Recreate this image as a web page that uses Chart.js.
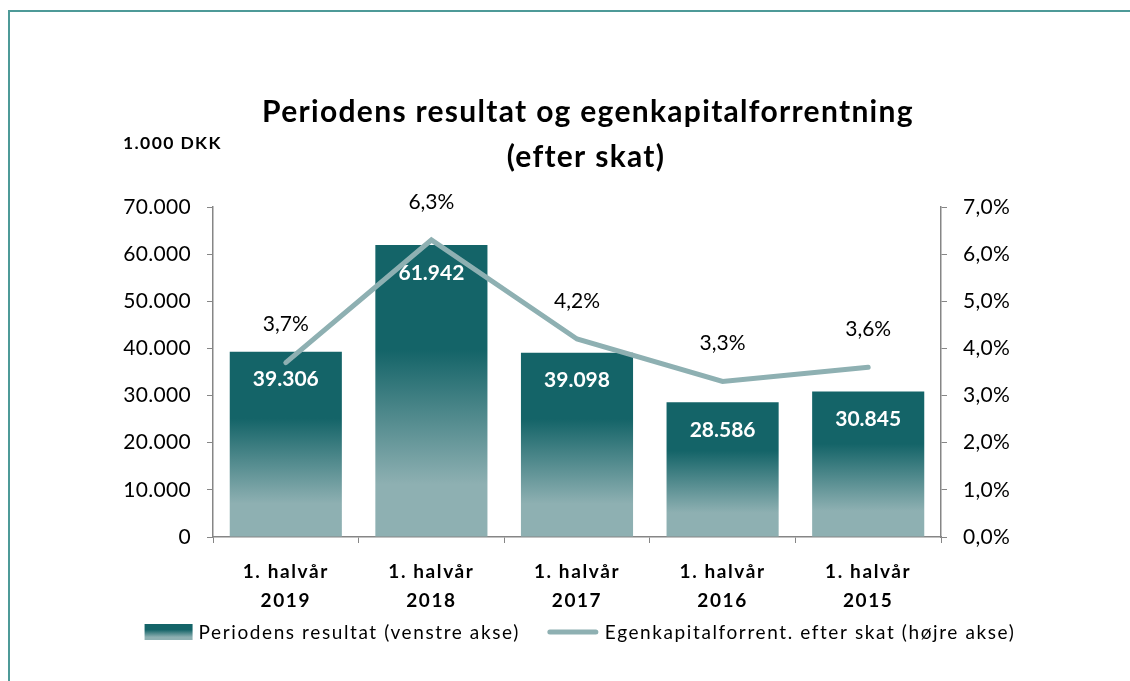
<!DOCTYPE html>
<html>
<head>
<meta charset="utf-8">
<script src="https://cdn.jsdelivr.net/npm/chart.js@4"></script>
<style>
html,body{margin:0;padding:0;background:#fff;overflow:hidden;}
#frame{position:absolute;left:8px;top:10px;width:2000px;height:2000px;
border-left:2px solid #4d9a98;border-top:2px solid #4d9a98;}
#wrap{position:absolute;left:0;top:0;width:1130px;height:681px;}
</style>
</head>
<body>
<div id="frame"></div>
<div id="wrap"><canvas id="resultChart" width="1130" height="681"></canvas></div>
<script>
/* ---------- data ---------- */
const categories = [
  ["1. halvår", "2019"],
  ["1. halvår", "2018"],
  ["1. halvår", "2017"],
  ["1. halvår", "2016"],
  ["1. halvår", "2015"]
];
const resultValues = [39306, 61942, 39098, 28586, 30845];
const roeValues = [3.7, 6.3, 4.2, 3.3, 3.6];
const leftTicks = [0, 10000, 20000, 30000, 40000, 50000, 60000, 70000];
const rightTicks = [0, 1, 2, 3, 4, 5, 6, 7];
const titleLines = ["Periodens resultat og egenkapitalforrentning", "(efter skat)"];
const unitLabel = "1.000 DKK";
const legendLabels = ["Periodens resultat (venstre akse)", "Egenkapitalforrent. efter skat (højre akse)"];

const DARK = "#146468";
const LIGHT = "#8eb0b2";
const FONT = "Lato, 'Noto Sans', sans-serif";

Chart.defaults.color = "#000";
Chart.defaults.font.family = FONT;

function thousands(v){
  return String(Math.round(v)).replace(/\B(?=(\d{3})+(?!\d))/g, ".");
}
function pct(v){
  return v.toFixed(1).replace(".", ",") + "%";
}

function barGradient(c, top, base){
  const g = c.createLinearGradient(0, top, 0, base);
  g.addColorStop(0, DARK);
  g.addColorStop(0.36, DARK);
  g.addColorStop(0.82, LIGHT);
  g.addColorStop(1, LIGHT);
  return g;
}

function barFill(ctx){
  const chart = ctx.chart;
  if(!chart.chartArea || ctx.type !== "data") return DARK;
  const y = chart.scales.y;
  return barGradient(chart.ctx, y.getPixelForValue(ctx.parsed.y), y.getPixelForValue(0));
}

/* ---------- labels, title, unit, legend ---------- */
const extras = {
  id: "extras",
  beforeDraw(chart){ chart.ctx.letterSpacing = "0.3px"; },
  afterDatasetsDraw(chart){
    const c = chart.ctx;
    c.save();
    c.letterSpacing = "0px";
    c.textAlign = "center";
    c.textBaseline = "middle";

    // bar values
    c.fillStyle = "#fff";
    c.font = "bold 21px " + FONT;
    chart.getDatasetMeta(1).data.forEach((el, i) => {
      c.fillText(thousands(resultValues[i]), el.x, el.y + 28);
    });

    // percent labels
    c.fillStyle = "#000";
    c.font = "21px " + FONT;
    chart.getDatasetMeta(0).data.forEach((el, i) => {
      c.fillText(pct(roeValues[i]), el.x, el.y - 38);
    });
    c.restore();
    // x-axis labels are drawn after this (ticks z:1) and are spaced wider
    c.letterSpacing = "1.6px";
  },
  afterDraw(chart){
    const c = chart.ctx;
    c.save();
    c.fillStyle = "#000";
    c.textBaseline = "middle";

    // title
    c.textAlign = "center";
    c.letterSpacing = "1.3px";
    c.font = "bold 30px " + FONT;
    c.fillText(titleLines[0], 588, 112);
    c.fillText(titleLines[1], 586, 157);

    // unit
    c.textAlign = "left";
    c.letterSpacing = "1.4px";
    c.font = "bold 17.5px " + FONT;
    c.fillText(unitLabel, 123, 143);

    // legend
    c.letterSpacing = "1.6px";
    c.font = "19px " + FONT;
    const w1 = c.measureText(legendLabels[0]).width;
    const w2 = c.measureText(legendLabels[1]).width;
    const sw = 48, gap = 6, mid = 27;
    const total = sw + gap + w1 + mid + 52 + gap + w2;
    let x = 580 - total / 2;
    const yc = 632;
    c.fillStyle = barGradient(c, yc - 8, yc + 8);
    c.fillRect(x, yc - 8, sw, 16);
    x += sw + gap;
    c.fillStyle = "#000";
    c.fillText(legendLabels[0], x, yc + 1);
    x += w1 + mid;
    c.strokeStyle = LIGHT;
    c.lineWidth = 5;
    c.lineCap = "round";
    c.beginPath();
    c.moveTo(x + 3, yc);
    c.lineTo(x + 49, yc);
    c.stroke();
    x += 52 + gap;
    c.fillText(legendLabels[1], x, yc + 1);
    c.restore();
  }
};

const axisGrey = "#868686";

new Chart(document.getElementById("resultChart"), {
  type: "bar",
  data: {
    labels: categories,
    datasets: [
      {
        type: "line",
        label: legendLabels[1],
        data: roeValues,
        yAxisID: "y1",
        borderColor: LIGHT,
        borderWidth: 5,
        borderCapStyle: "round",
        borderJoinStyle: "miter",
        pointRadius: 0,
        tension: 0,
        order: 0
      },
      {
        label: legendLabels[0],
        data: resultValues,
        yAxisID: "y",
        backgroundColor: barFill,
        borderWidth: 0,
        barPercentage: 0.77,
        categoryPercentage: 1,
        order: 1
      }
    ]
  },
  options: {
    responsive: false,
    animation: false,
    layout: { padding: { left: 100, right: 56, top: 207, bottom: 64 } },
    plugins: {
      legend: { display: false },
      tooltip: { enabled: false },
      title: { display: false }
    },
    scales: {
      x: {
        grid: { drawOnChartArea: false, offset: true, color: axisGrey, tickLength: 6 },
        border: { color: axisGrey, width: 1.5 },
        ticks: { z: 1, font: { size: 19, weight: "bold", lineHeight: 1.5 }, padding: 15, color: "#000" },
        afterFit(s){ s.height = 80; }
      },
      y: {
        position: "left",
        min: 0,
        max: 70000,
        afterBuildTicks(s){ s.ticks = leftTicks.map(v => ({ value: v })); },
        grid: { drawOnChartArea: false, color: axisGrey, tickLength: 6 },
        border: { color: axisGrey, width: 1.5 },
        ticks: { font: { size: 21 }, padding: 16, color: "#000", callback: v => thousands(v) },
        afterFit(s){ s.width = 113; }
      },
      y1: {
        position: "right",
        min: 0,
        max: 7,
        afterBuildTicks(s){ s.ticks = rightTicks.map(v => ({ value: v })); },
        grid: { drawOnChartArea: false, color: axisGrey, tickLength: 6 },
        border: { color: axisGrey, width: 1.5 },
        ticks: { font: { size: 21 }, padding: 16, color: "#000", callback: v => pct(v) },
        afterFit(s){ s.width = 133; }
      }
    }
  },
  plugins: [extras]
});
</script>
</body>
</html>
